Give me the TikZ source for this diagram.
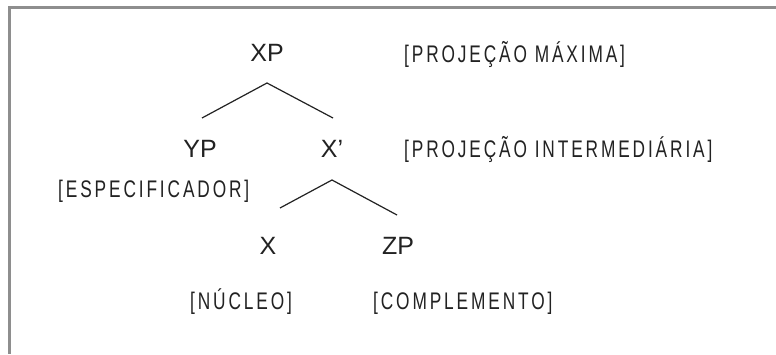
\documentclass[tikz,border=0pt]{standalone}
\usepackage{fontspec}
\setmainfont{Liberation Sans}
\newfontfamily\labfont[FakeStretch=0.72,LetterSpace=12]{Liberation Sans}
\definecolor{framegray}{HTML}{8E8E8E}
\definecolor{ink}{HTML}{222222}
\begin{document}
\begin{tikzpicture}[x=1pt,y=-1pt,
  cat/.style={anchor=base,inner sep=0pt,text=ink,font=\fontsize{25}{28}\selectfont},
  lab/.style={anchor=base west,inner sep=0pt,text=ink,font=\labfont\fontsize{24}{27}\selectfont},
  branch/.style={draw=ink,line width=1.2pt}]
\useasboundingbox (0,0) rectangle (776,354);
\fill[white] (0,0) rectangle (776,354);
\draw[framegray,line width=3pt] (776,7) -- (9,7) -- (9,354);

\node[cat] (xp) at (267,61) {XP};
\node[lab] (maxl) at (404,62) {[PROJEÇÃO MÁXIMA]};
\node[cat] (yp) at (200,157) {YP};
\node[cat] (xbar) at (332,157) {X\symbol{39}};
\node[lab] (interl) at (404,157) {[PROJEÇÃO INTERMEDIÁRIA]};
\node[lab] (specl) at (58,197) {[ESPECIFICADOR]};
\node[cat] (x) at (268,254) {X};
\node[cat] (zp) at (398,254) {ZP};
\node[lab] (nucl) at (190,309) {[NÚCLEO]};
\node[lab] (compl) at (373,309) {[COMPLEMENTO]};

\coordinate (a1) at (267,83);
\coordinate (l1) at (202,118);
\coordinate (r1) at (333,118);
\coordinate (a2) at (332,180);
\coordinate (l2) at (280,208);
\coordinate (r2) at (397,215);
\draw[branch] (l1) -- (a1) -- (r1);
\draw[branch] (l2) -- (a2) -- (r2);
\end{tikzpicture}
\end{document}
